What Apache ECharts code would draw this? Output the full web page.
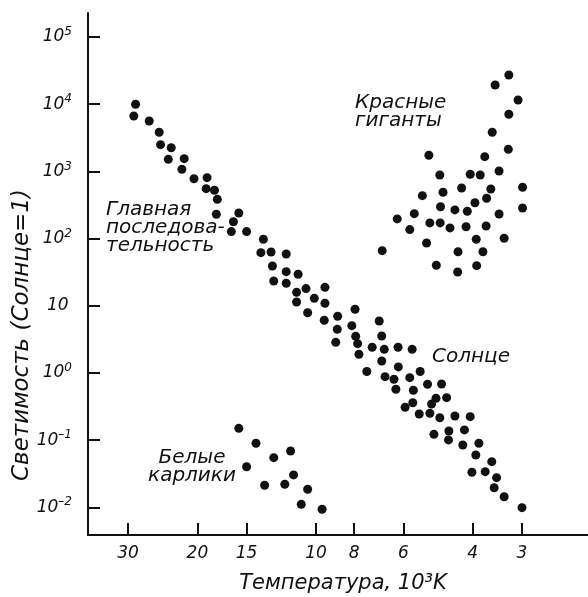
<!DOCTYPE html>
<html><head><meta charset="utf-8">
<script src="https://cdn.jsdelivr.net/npm/echarts@6/dist/echarts.min.js"></script>
<style>html,body{margin:0;padding:0;background:#fff}#c{width:588px;height:597px}</style>
</head><body><div id="c"></div>
<script>
// Temperature in 10^3 K, luminosity in solar units
const xTicks = [30, 20, 15, 10, 8, 6, 4, 3];
const yTicks = [0.01, 0.1, 1, 10, 100, 1000, 10000, 100000];
const yTickSup = ['–2', '–1', '0', '', '2', '3', '4', '5'];

const mainT = [28.7, 29.0, 26.5, 25.0, 24.8, 23.3, 23.7, 21.6, 21.9, 20.4, 18.9, 19.0, 18.1, 17.8, 17.9, 15.7, 16.2, 16.4, 15.0, 13.6,
  13.8, 13.0, 11.9, 12.9, 11.9, 11.1, 12.8, 11.9, 11.2, 10.6, 9.49, 11.2, 10.1, 9.49, 10.5, 9.53, 8.81, 7.96, 8.83, 8.11,
  7.93, 8.91, 7.84, 7.78, 6.91, 6.81, 7.20, 6.71, 6.19, 5.70, 6.81, 6.18, 7.43, 6.68, 6.34, 5.78, 5.44, 6.27, 5.66, 5.21,
  4.80, 4.96, 5.09, 4.66, 5.94, 5.68, 5.47, 5.14, 4.85, 4.44, 4.06, 5.02, 4.60, 4.61, 4.20, 4.24, 3.86, 3.93, 3.58, 4.02,
  3.72, 3.48, 3.53, 3.33, 3.00];
const mainL = [9960, 6670, 5620, 3820, 2500, 2250, 1510, 1545, 1075, 778, 806, 553, 523, 384, 230, 240, 178, 127, 127, 97.7,
  61.7, 63.2, 59.0, 39.1, 32.2, 29.4, 23.4, 21.6, 15.9, 18.0, 18.8, 11.4, 12.9, 10.9, 7.89, 6.09, 6.98, 8.87, 4.47, 5.06,
  3.52, 2.86, 2.73, 1.90, 5.94, 3.55, 2.41, 2.25, 2.41, 2.25, 1.51, 1.23, 1.05, 0.881, 0.806, 0.851, 1.05, 0.572, 0.553, 0.679,
  0.686, 0.420, 0.346, 0.429, 0.309, 0.361, 0.245, 0.251, 0.216, 0.229, 0.224, 0.122, 0.137, 0.101, 0.142, 0.0849, 0.0899, 0.0602, 0.0479, 0.0333,
  0.0340, 0.0277, 0.0196, 0.0144, 0.0099];

const giantT = [3.24, 3.51, 3.07, 3.24, 3.57, 3.25, 5.17, 3.73, 4.85, 4.06, 3.83, 3.43, 4.27, 3.60, 2.99, 5.37, 4.76, 3.69, 3.95, 4.83,
  4.44, 4.13, 2.99, 3.43, 5.63, 6.22, 5.78, 5.14, 4.84, 4.57, 4.16, 3.70, 3.33, 3.92, 5.24, 4.36, 3.77, 4.95, 4.37, 3.91, 6.79];
const giantL = [27200, 19300, 11550, 7080, 3820, 2130, 1740, 1655, 884, 906, 884, 1014, 566, 547, 580, 435, 489, 398, 342, 298,
  267, 255, 285, 232, 235, 196, 136, 171, 171, 144, 150, 154, 101, 97.7, 86.0, 63.8, 63.8, 40.1, 31.8, 39.5, 66.1];

const dwarfT = [15.7, 14.2, 12.8, 11.6, 15.0, 11.4, 13.5, 12.0, 10.5, 10.9, 9.65];
const dwarfL = [0.150, 0.0899, 0.0549, 0.0691, 0.0403, 0.0304, 0.0213, 0.0221, 0.0186, 0.0111, 0.00937];

const pairs = (xs, ys) => xs.map((x, i) => [x, ys[i]]);
const FONT = '"DejaVu Sans", sans-serif';
const INK = '#111111';

const chart = echarts.init(document.getElementById('c'), null, { renderer: 'canvas' });
const dot = { symbol: 'circle', symbolSize: 9, itemStyle: { color: INK, opacity: 1 }, silent: true, animation: false };
const annot = { fontFamily: FONT, fontStyle: 'italic', fontSize: 20, lineHeight: 18, fill: INK };

chart.setOption({
  backgroundColor: '#ffffff',
  animation: false,
  grid: { left: 88, right: 0, top: 13, bottom: 62, containLabel: false, outerBoundsMode: 'none' },
  xAxis: {
    type: 'log', logBase: 10, inverse: true, min: 2.04, max: 37.9,
    name: 'Температура, 10³K', nameLocation: 'middle', nameGap: 38, nameMoveOverlap: false,
    nameTextStyle: { fontFamily: FONT, fontStyle: 'italic', fontSize: 21, color: INK, padding: [0, 0, 0, 10] },
    axisLine: { show: true, lineStyle: { color: INK, width: 2 } },
    axisTick: { show: true, inside: true, length: 12, lineStyle: { color: INK, width: 2 }, customValues: xTicks },
    axisLabel: { show: true, customValues: xTicks, margin: 10, fontFamily: FONT, fontStyle: 'italic', fontSize: 17, color: INK,
      formatter: v => String(Math.round(v)) },
    splitLine: { show: false }, minorTick: { show: false }
  },
  yAxis: {
    type: 'log', logBase: 10, min: 0.00388, max: 227500,
    name: 'Светимость (Солнце=1)', nameLocation: 'middle', nameGap: 54, nameRotate: 90, nameMoveOverlap: false,
    nameTextStyle: { fontFamily: FONT, fontStyle: 'italic', fontSize: 23, color: INK, padding: [0, 122, 0, 0] },
    axisLine: { show: true, lineStyle: { color: INK, width: 2 } },
    axisTick: { show: true, inside: true, length: 12, lineStyle: { color: INK, width: 2 }, customValues: yTicks },
    axisLabel: { show: true, customValues: yTicks, margin: 16, color: INK,
      formatter: v => {
        let i = yTicks.findIndex(t => Math.abs(Math.log10(t) - Math.log10(v)) < 1e-6);
        const sup = i >= 0 ? yTickSup[i] : '';
        return sup === '' ? '{b|10}{e| }' : '{b|10}{s|' + sup + '}';
      },
      rich: {
        b: { fontFamily: FONT, fontStyle: 'italic', fontSize: 17, lineHeight: 22, color: INK },
        s: { fontFamily: FONT, fontStyle: 'italic', fontSize: 12, lineHeight: 12, verticalAlign: 'top', color: INK },
        e: { fontSize: 12, lineHeight: 12 }
      }
    },
    splitLine: { show: false }, minorTick: { show: false }
  },
  series: [
    Object.assign({ type: 'scatter', name: 'Главная последовательность', data: pairs(mainT, mainL) }, dot),
    Object.assign({ type: 'scatter', name: 'Красные гиганты', data: pairs(giantT, giantL) }, dot),
    Object.assign({ type: 'scatter', name: 'Белые карлики', data: pairs(dwarfT, dwarfL) }, dot)
  ],
  graphic: [
    { type: 'text', x: 106, y: 201, style: Object.assign({ text: 'Главная\nпоследова-\nтельность', align: 'left', verticalAlign: 'top' }, annot) },
    { type: 'text', x: 355, y: 94, style: Object.assign({ text: 'Красные\nгиганты', align: 'left', verticalAlign: 'top' }, annot) },
    { type: 'text', x: 432, y: 357, style: Object.assign({ text: 'Солнце', align: 'left', verticalAlign: 'middle' }, annot) },
    { type: 'text', x: 192, y: 449, style: Object.assign({ text: 'Белые\nкарлики', align: 'center', verticalAlign: 'top' }, annot) }
  ]
});
</script>
</body></html>
